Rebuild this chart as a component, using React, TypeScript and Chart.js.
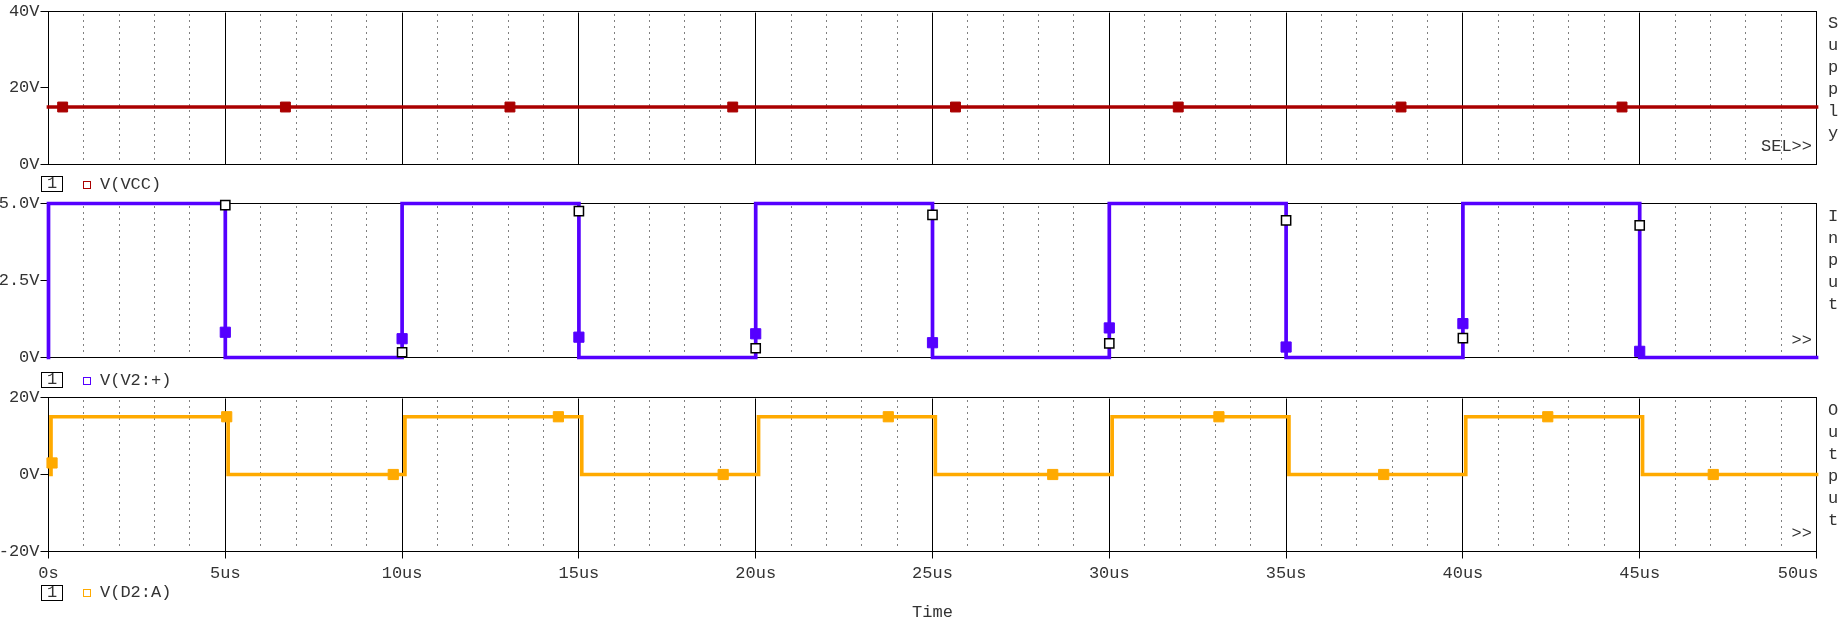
import React, { useEffect, useRef } from 'react';
import { Chart, registerables } from 'chart.js';

Chart.register(...registerables);

// ---------- data ----------
const xMajorTicks = [0, 5, 10, 15, 20, 25, 30, 35, 40, 45, 50];
const xTickLabels = ['0s', '5us', '10us', '15us', '20us', '25us', '30us', '35us', '40us', '45us', '50us'];
const xMinorTicks = [1, 2, 3, 4, 6, 7, 8, 9, 11, 12, 13, 14, 16, 17, 18, 19, 21, 22, 23, 24, 26, 27, 28, 29, 31, 32, 33, 34, 36, 37, 38, 39, 41, 42, 43, 44, 46, 47, 48, 49];

// Supply: V(VCC)
const vccTimes = [0, 50];
const vccValues = [15, 15];
const vccMarkerTimes = [0.4, 6.7, 13.05, 19.35, 25.65, 31.95, 38.25, 44.5];
const vccMarkerValues = [15, 15, 15, 15, 15, 15, 15, 15];

// Input: V(V2:+)
const inputTimes = [0, 0, 5, 5, 10, 10, 15, 15, 20, 20, 25, 25, 30, 30, 35, 35, 40, 40, 45, 45, 50];
const inputValues = [0, 5, 5, 0, 0, 5, 5, 0, 0, 5, 5, 0, 0, 5, 5, 0, 0, 5, 5, 0, 0];
const inputProbeTimes = [5, 10, 15, 20, 25, 30, 35, 40, 45];
const inputProbeValues = [4.95, 0.17, 4.75, 0.3, 4.63, 0.46, 4.45, 0.63, 4.29];
const inputMarkerTimes = [5, 10, 15, 20, 25, 30, 35, 40, 45];
const inputMarkerValues = [0.82, 0.61, 0.66, 0.77, 0.48, 0.96, 0.34, 1.1, 0.2];

// Output: V(D2:A)
const outputTimes = [0.07, 0.07, 5.08, 5.08, 10.08, 10.08, 15.08, 15.08, 20.08, 20.08, 25.08, 25.08, 30.08, 30.08, 35.08, 35.08, 40.08, 40.08, 45.08, 45.08, 50];
const outputValues = [0, 15, 15, 0, 0, 15, 15, 0, 0, 15, 15, 0, 0, 15, 15, 0, 0, 15, 15, 0, 0];
const outputMarkerTimes = [0.1, 5.04, 9.75, 14.42, 19.08, 23.75, 28.4, 33.1, 37.76, 42.4, 47.08];
const outputMarkerValues = [3, 15, 0, 15, 0, 15, 0, 15, 0, 15, 0];

// ---------- style ----------
const W = 1846;
const FONT = '"Liberation Mono", "DejaVu Sans Mono", monospace';
const TEXT = '#333333';
const RED = '#aa0000';
const PURPLE = '#5500ff';
const ORANGE = '#ffaa00';

const pts = (xs: number[], ys: number[]) => xs.map((x, i) => ({ x, y: ys[i] }));

const lineDs = (data: any, color: string) => ({
  data,
  borderColor: color,
  borderWidth: 3.7,
  pointRadius: 0,
  tension: 0,
  borderCapStyle: 'square',
  borderJoinStyle: 'miter',
  clip: false,
  fill: false,
});

const markerDs = (data: any, fill: string, stroke: string, r: number, bw: number) => ({
  data,
  showLine: false,
  pointStyle: 'rect',
  pointRadius: r,
  pointBackgroundColor: fill,
  pointBorderColor: stroke,
  pointBorderWidth: bw,
  borderColor: stroke,
  backgroundColor: fill,
  clip: false,
});

function gridPlugin(withXAxis: boolean) {
  return {
    id: 'pspiceGrid',
    beforeDatasetsDraw(chart: any) {
      const { ctx, chartArea: a, scales } = chart;
      const xs = scales.x;
      const al = (v: number) => Math.floor(v) + 0.5;
      const top = al(a.top);
      const bottom = al(a.bottom);
      const left = al(a.left);
      const right = al(a.right);
      ctx.save();
      ctx.strokeStyle = '#000';
      ctx.lineWidth = 1;
      // minor dotted
      ctx.setLineDash([1, 5]);
      ctx.beginPath();
      for (const t of xMinorTicks) {
        const px = al(xs.getPixelForValue(t));
        ctx.moveTo(px, top + 3);
        ctx.lineTo(px, bottom - 2);
      }
      ctx.stroke();
      ctx.setLineDash([]);
      // major solid
      ctx.beginPath();
      for (const t of xMajorTicks) {
        const px = al(xs.getPixelForValue(t));
        ctx.moveTo(px, top + 1);
        ctx.lineTo(px, bottom);
      }
      ctx.stroke();
      ctx.strokeRect(left, top, right - left, bottom - top);
      if (withXAxis) {
        ctx.beginPath();
        for (const t of xMajorTicks) {
          const px = al(xs.getPixelForValue(t));
          ctx.moveTo(px, bottom);
          ctx.lineTo(px, bottom + 7);
        }
        ctx.stroke();
        ctx.fillStyle = TEXT;
        ctx.font = `17px ${FONT}`;
        ctx.textBaseline = 'middle';
        xMajorTicks.forEach((t, i) => {
          const px = xs.getPixelForValue(t);
          const label = xTickLabels[i];
          const w = ctx.measureText(label).width;
          let cx = px;
          if (cx + w / 2 > a.right + 2) cx = a.right + 2 - w / 2;
          ctx.textAlign = 'center';
          ctx.fillText(label, cx, a.bottom + 21.5);
        });
        ctx.textAlign = 'center';
        ctx.fillText('Time', (a.left + a.right) / 2, a.bottom + 60.5);
      }
      ctx.restore();
    },
  };
}

function makeChart(
  canvas: HTMLCanvasElement,
  datasets: any[],
  yMin: number,
  yMax: number,
  yStep: number,
  yLabel: (v: number) => string,
  padTop: number,
  padBottom: number,
  withXAxis: boolean
) {
  return new Chart(canvas, {
    type: 'line',
    data: { datasets },
    options: {
      animation: false,
      responsive: false,
      events: [],
      layout: { padding: { top: padTop, bottom: padBottom, left: 0, right: 29.5 } },
      plugins: { legend: { display: false }, tooltip: { enabled: false } },
      scales: {
        x: { type: 'linear', min: 0, max: 50, display: false },
        y: {
          type: 'linear',
          min: yMin,
          max: yMax,
          afterFit: (s: any) => {
            s.width = 48.5;
          },
          ticks: {
            stepSize: yStep,
            padding: 1,
            color: TEXT,
            font: { family: FONT, size: 17 },
            callback: (v: any) => yLabel(Number(v)),
            autoSkip: false,
          },
          grid: { drawOnChartArea: false, drawTicks: true, tickLength: 8, color: '#000', lineWidth: 1 },
          border: { display: false },
        },
      },
    } as any,
    plugins: [gridPlugin(withXAxis) as any],
  });
}

const legendRow = (top: number, color: string, text: string) => (
  <div style={{ position: 'absolute', left: 0, top, height: 16, width: 300 }}>
    <div
      style={{
        position: 'absolute',
        left: 41,
        top: 0,
        width: 22,
        height: 16,
        boxSizing: 'border-box',
        border: '1px solid #000',
        font: `17px ${FONT}`,
        lineHeight: '14px',
        textAlign: 'center',
        color: TEXT,
      }}
    >
      1
    </div>
    <div
      style={{
        position: 'absolute',
        left: 83,
        top: 4.5,
        width: 8,
        height: 8,
        boxSizing: 'border-box',
        border: `1px solid ${color}`,
      }}
    />
    <div style={{ position: 'absolute', left: 100, top: -1.5, font: `17px ${FONT}`, lineHeight: '20px', color: TEXT, whiteSpace: 'pre' }}>
      {text}
    </div>
  </div>
);

const sideLabel = (top: number, text: string) => (
  <div
    style={{
      position: 'absolute',
      left: 1824.5,
      top,
      writingMode: 'vertical-rl',
      textOrientation: 'upright',
      font: `17px ${FONT}`,
      lineHeight: '17px',
      letterSpacing: '3px',
      color: TEXT,
    }}
  >
    {text}
  </div>
);

const cornerLabel = (top: number, text: string) => (
  <div style={{ position: 'absolute', right: W - 1812, top, font: `17px ${FONT}`, lineHeight: '20px', color: TEXT, whiteSpace: 'pre' }}>
    {text}
  </div>
);

export default function App() {
  const c1 = useRef<HTMLCanvasElement>(null);
  const c2 = useRef<HTMLCanvasElement>(null);
  const c3 = useRef<HTMLCanvasElement>(null);

  useEffect(() => {
    const charts: Chart[] = [];
    charts.push(
      makeChart(
        c1.current!,
        [markerDs(pts(vccMarkerTimes, vccMarkerValues), RED, RED, 7, 1), lineDs(pts(vccTimes, vccValues), RED)],
        0,
        40,
        20,
        (v) => `${v}V`,
        9.5,
        15.5,
        false
      )
    );
    charts.push(
      makeChart(
        c2.current!,
        [
          markerDs(pts(inputProbeTimes, inputProbeValues), '#ffffff', '#000000', 6.5, 1.5),
          markerDs(pts(inputMarkerTimes, inputMarkerValues), PURPLE, PURPLE, 7.2, 1),
          lineDs(pts(inputTimes, inputValues), PURPLE),
        ],
        0,
        5,
        2.5,
        (v) => (v === 0 ? '0V' : `${v.toFixed(1)}V`),
        13.5,
        12.5,
        false
      )
    );
    charts.push(
      makeChart(
        c3.current!,
        [markerDs(pts(outputMarkerTimes, outputMarkerValues), ORANGE, ORANGE, 7.2, 1), lineDs(pts(outputTimes, outputValues), ORANGE)],
        -20,
        20,
        20,
        (v) => `${v}V`,
        12.5,
        74.5,
        true
      )
    );
    return () => charts.forEach((c) => c.destroy());
  }, []);

  return (
    <div style={{ position: 'absolute', left: 0, top: 0, width: W, height: 626, background: '#fff', overflow: 'hidden' }}>
      <canvas ref={c1} width={W} height={180} style={{ position: 'absolute', left: 0, top: 0, width: W, height: 180 }} />
      <canvas ref={c2} width={W} height={180} style={{ position: 'absolute', left: 0, top: 190, width: W, height: 180 }} />
      <canvas ref={c3} width={W} height={241} style={{ position: 'absolute', left: 0, top: 385, width: W, height: 241 }} />
      {legendRow(176, RED, 'V(VCC)')}
      {legendRow(372, PURPLE, 'V(V2:+)')}
      {legendRow(584.5, ORANGE, 'V(D2:A)')}
      {sideLabel(13.5, 'Supply')}
      {sideLabel(207, 'Input')}
      {sideLabel(400.5, 'Output')}
      {cornerLabel(137, 'SEL>>')}
      {cornerLabel(330.5, '>>')}
      {cornerLabel(524, '>>')}
    </div>
  );
}
